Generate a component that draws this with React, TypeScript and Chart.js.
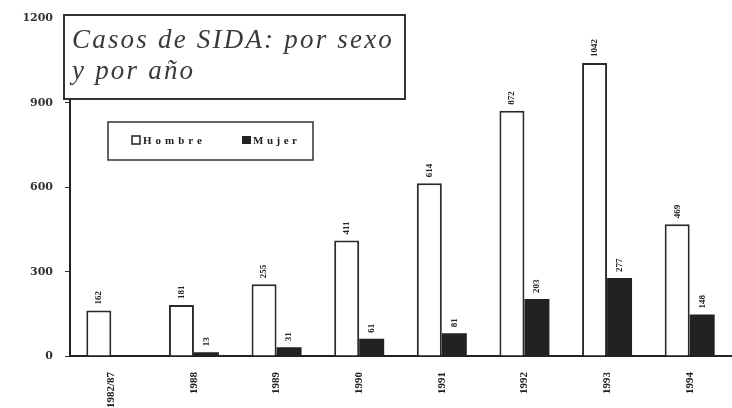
import React, { useEffect, useRef } from 'react';
import { Chart, registerables } from 'chart.js';

Chart.register(...registerables);

const categories = ['1982/87', '1988', '1989', '1990', '1991', '1992', '1993', '1994'];
const hombre = [162, 181, 255, 411, 614, 872, 1042, 469];
const mujer = [null, 13, 31, 61, 81, 203, 277, 148];
const seriesNames = ['Hombre', 'Mujer'];
const titleLines = ['Casos de SIDA: por sexo', 'y por año'];
const yTicks = [0, 300, 600, 900, 1200];

const INK = '#222';
const LIGHT = '#ffffff';

const valueLabels = {
  id: 'valueLabels',
  afterDatasetsDraw(chart: any) {
    const ctx = chart.ctx;
    ctx.save();
    ctx.fillStyle = INK;
    ctx.font = 'bold 9px "Liberation Serif"';
    chart.data.datasets.forEach((ds: any, i: number) => {
      const meta = chart.getDatasetMeta(i);
      meta.data.forEach((el: any, j: number) => {
        const v = ds.data[j];
        if (v == null) return;
        ctx.save();
        ctx.translate(el.x, el.y - 6);
        ctx.rotate(-Math.PI / 2);
        ctx.textAlign = 'left';
        ctx.textBaseline = 'middle';
        ctx.fillText(String(v), 0, 0);
        ctx.restore();
      });
    });
    ctx.restore();
  },
};

const boxes = {
  id: 'boxes',
  afterDraw(chart: any) {
    const ctx = chart.ctx;
    ctx.save();
    // title box
    ctx.fillStyle = '#fff';
    ctx.fillRect(64, 15, 341, 84);
    ctx.strokeStyle = '#333';
    ctx.lineWidth = 2;
    ctx.strokeRect(64, 15, 341, 84);
    ctx.fillStyle = '#3a3a3a';
    ctx.font = 'italic 27px "Liberation Serif"';
    (ctx as any).letterSpacing = '2.2px';
    ctx.textAlign = 'left';
    ctx.textBaseline = 'alphabetic';
    ctx.fillText(titleLines[0], 72, 48);
    ctx.fillText(titleLines[1], 72, 79);

    // legend box
    ctx.fillStyle = '#fff';
    ctx.fillRect(108, 122, 205, 38);
    ctx.strokeStyle = '#333';
    ctx.lineWidth = 1.5;
    ctx.strokeRect(108, 122, 205, 38);
    ctx.font = 'bold 11px "Liberation Serif"';
    ctx.textBaseline = 'middle';
    // Hombre
    ctx.fillStyle = LIGHT;
    ctx.fillRect(132, 136, 8, 8);
    ctx.strokeStyle = INK;
    ctx.lineWidth = 1.5;
    ctx.strokeRect(132, 136, 8, 8);
    ctx.fillStyle = INK;
    (ctx as any).letterSpacing = '4px';
    ctx.fillText(seriesNames[0], 143, 141);
    // Mujer
    ctx.fillStyle = INK;
    ctx.fillRect(242, 136, 9, 8);
    (ctx as any).letterSpacing = '3.5px';
    ctx.fillText(seriesNames[1], 253, 141);
    ctx.restore();
  },
};

export default function App() {
  const ref = useRef<HTMLCanvasElement | null>(null);
  useEffect(() => {
    document.body.style.margin = '0';
    const canvas = ref.current;
    if (!canvas) return;
    const chart = new Chart(canvas, {
      type: 'bar',
      data: {
        labels: categories,
        datasets: [
          {
            label: seriesNames[0],
            data: hombre,
            backgroundColor: LIGHT,
            borderColor: '#2a2a2a',
            borderWidth: 2,
            borderSkipped: 'bottom',
            barPercentage: 1,
            categoryPercentage: 0.605,
          },
          {
            label: seriesNames[1],
            data: mujer as any,
            backgroundColor: INK,
            borderColor: INK,
            borderWidth: 0,
            barPercentage: 1,
            categoryPercentage: 0.605,
          },
        ],
      },
      options: {
        animation: false,
        responsive: false,
        devicePixelRatio: 1,
        layout: { padding: { top: 18, right: 1, left: 0, bottom: 0 } },
        plugins: {
          legend: { display: false },
          tooltip: { enabled: false },
          title: { display: false },
        },
        scales: {
          x: {
            grid: { display: false, drawTicks: false },
            border: { display: true, color: INK, width: 2 },
            ticks: {
              color: INK,
              font: { family: 'Liberation Serif', size: 11, weight: 'bold' },
              minRotation: 90,
              maxRotation: 90,
              padding: 16,
              autoSkip: false,
            },
            afterFit(scale: any) {
              scale.height = 52;
            },
          },
          y: {
            min: yTicks[0],
            max: yTicks[yTicks.length - 1],
            afterBuildTicks(scale: any) {
              scale.ticks = yTicks.map((v) => ({ value: v }));
            },
            grid: {
              display: true,
              drawOnChartArea: false,
              drawTicks: true,
              tickLength: 5,
              color: '#333',
            },
            border: { display: true, color: INK, width: 2 },
            ticks: {
              color: '#333',
              font: { family: 'DejaVu Serif', size: 11, weight: 'bold' },
              padding: 12,
              callback: (v: any) => String(v),
            },
            afterFit(scale: any) {
              scale.width = 70;
            },
          },
        },
      },
      plugins: [valueLabels, boxes],
    });
    return () => chart.destroy();
  }, []);
  return (
    <div style={{ position: 'absolute', left: 0, top: 0, width: 732, height: 408, background: '#fff' }}>
      <canvas ref={ref} width={732} height={408} />
    </div>
  );
}
